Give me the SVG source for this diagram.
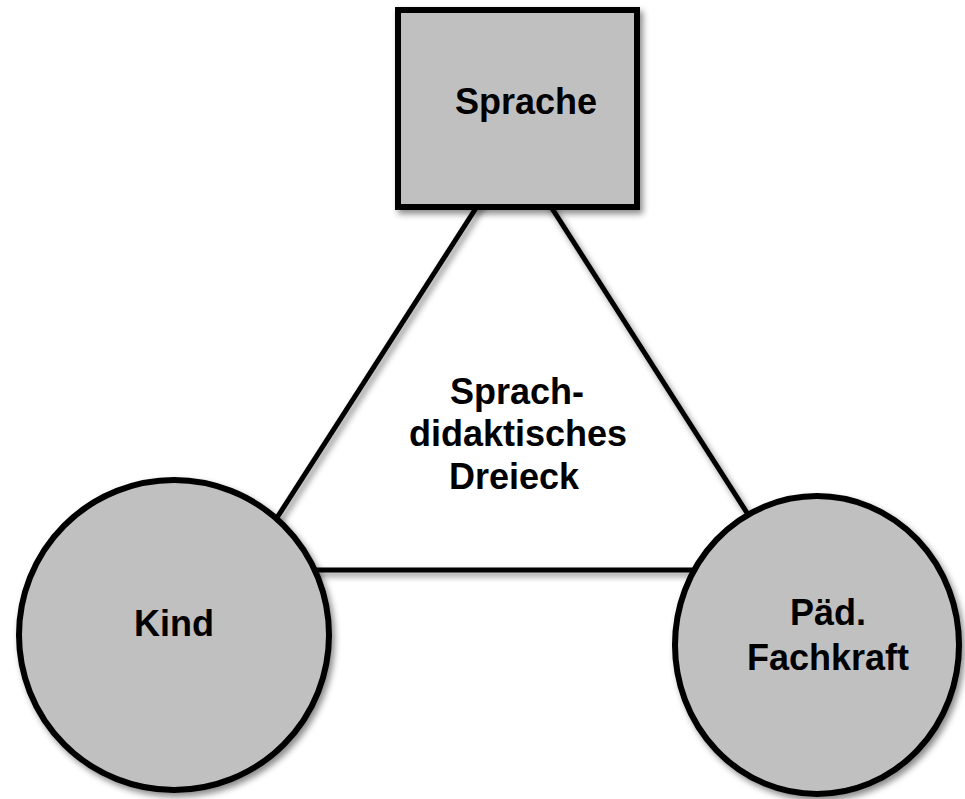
<svg xmlns="http://www.w3.org/2000/svg" width="965" height="799" viewBox="0 0 965 799">
  <defs>
    <filter id="shadow" x="-20%" y="-20%" width="140%" height="140%">
      <feDropShadow dx="3" dy="4" stdDeviation="3" flood-color="#000" flood-opacity="0.45"/>
    </filter>
    <style>
      .node { fill: #c0c0c0; stroke: #000; stroke-width: 6; filter: url(#shadow); }
      .edge { stroke: #000; stroke-width: 5; fill: none; }
      .lbl { font-family: "Liberation Sans", Arial, sans-serif; font-weight: bold; font-size: 36px; fill: #000; text-anchor: middle; }
    </style>
  </defs>
  <rect width="965" height="799" fill="#fff"/>
  <g id="connectors" filter="url(#shadow)">
    <line class="edge" x1="514" y1="149" x2="244" y2="569"/>
    <line class="edge" x1="514" y1="149" x2="783" y2="569"/>
    <line class="edge" x1="244" y1="570" x2="783" y2="570"/>
  </g>
  <g id="center-label">
    <text class="lbl" x="517" y="404">Sprach-</text>
    <text class="lbl" x="518" y="446">didaktisches</text>
    <text class="lbl" x="514" y="489">Dreieck</text>
  </g>
  <g id="node-sprache">
    <rect class="node" x="398" y="10" width="239" height="197"/>
    <text class="lbl" x="526" y="114">Sprache</text>
  </g>
  <g id="node-kind">
    <circle class="node" cx="174" cy="635" r="155"/>
    <text class="lbl" x="174" y="636">Kind</text>
  </g>
  <g id="node-fachkraft">
    <ellipse class="node" cx="817" cy="645" rx="142" ry="149"/>
    <text class="lbl" x="828" y="625">Päd.</text>
    <text class="lbl" x="828" y="670">Fachkraft</text>
  </g>
</svg>
